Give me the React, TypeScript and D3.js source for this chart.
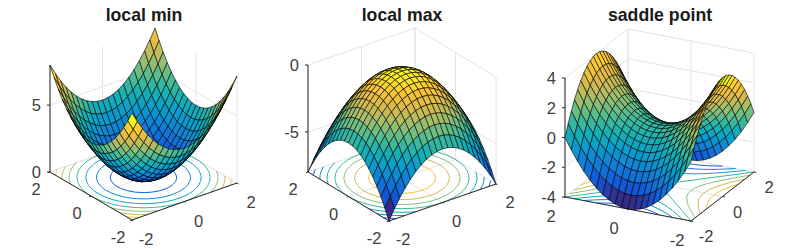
import React from 'react';
import * as d3 from 'd3';

// grid used by all three surfaces (x and y run the same way)
const gridValues = [-2, -1.8, -1.6, -1.4, -1.2, -1, -0.8, -0.6, -0.4, -0.2, 0, 0.2, 0.4, 0.6, 0.8, 1, 1.2, 1.4, 1.6, 1.8, 2];
const xyTicks = [-2, 0, 2];

// rows are x, columns are y
const localMinZ = [
  [8, 7.24, 6.56, 5.96, 5.44, 5, 4.64, 4.36, 4.16, 4.04, 4, 4.04, 4.16, 4.36, 4.64, 5, 5.44, 5.96, 6.56, 7.24, 8],
  [7.24, 6.48, 5.8, 5.2, 4.68, 4.24, 3.88, 3.6, 3.4, 3.28, 3.24, 3.28, 3.4, 3.6, 3.88, 4.24, 4.68, 5.2, 5.8, 6.48, 7.24],
  [6.56, 5.8, 5.12, 4.52, 4, 3.56, 3.2, 2.92, 2.72, 2.6, 2.56, 2.6, 2.72, 2.92, 3.2, 3.56, 4, 4.52, 5.12, 5.8, 6.56],
  [5.96, 5.2, 4.52, 3.92, 3.4, 2.96, 2.6, 2.32, 2.12, 2, 1.96, 2, 2.12, 2.32, 2.6, 2.96, 3.4, 3.92, 4.52, 5.2, 5.96],
  [5.44, 4.68, 4, 3.4, 2.88, 2.44, 2.08, 1.8, 1.6, 1.48, 1.44, 1.48, 1.6, 1.8, 2.08, 2.44, 2.88, 3.4, 4, 4.68, 5.44],
  [5, 4.24, 3.56, 2.96, 2.44, 2, 1.64, 1.36, 1.16, 1.04, 1, 1.04, 1.16, 1.36, 1.64, 2, 2.44, 2.96, 3.56, 4.24, 5],
  [4.64, 3.88, 3.2, 2.6, 2.08, 1.64, 1.28, 1, 0.8, 0.68, 0.64, 0.68, 0.8, 1, 1.28, 1.64, 2.08, 2.6, 3.2, 3.88, 4.64],
  [4.36, 3.6, 2.92, 2.32, 1.8, 1.36, 1, 0.72, 0.52, 0.4, 0.36, 0.4, 0.52, 0.72, 1, 1.36, 1.8, 2.32, 2.92, 3.6, 4.36],
  [4.16, 3.4, 2.72, 2.12, 1.6, 1.16, 0.8, 0.52, 0.32, 0.2, 0.16, 0.2, 0.32, 0.52, 0.8, 1.16, 1.6, 2.12, 2.72, 3.4, 4.16],
  [4.04, 3.28, 2.6, 2, 1.48, 1.04, 0.68, 0.4, 0.2, 0.08, 0.04, 0.08, 0.2, 0.4, 0.68, 1.04, 1.48, 2, 2.6, 3.28, 4.04],
  [4, 3.24, 2.56, 1.96, 1.44, 1, 0.64, 0.36, 0.16, 0.04, 0, 0.04, 0.16, 0.36, 0.64, 1, 1.44, 1.96, 2.56, 3.24, 4],
  [4.04, 3.28, 2.6, 2, 1.48, 1.04, 0.68, 0.4, 0.2, 0.08, 0.04, 0.08, 0.2, 0.4, 0.68, 1.04, 1.48, 2, 2.6, 3.28, 4.04],
  [4.16, 3.4, 2.72, 2.12, 1.6, 1.16, 0.8, 0.52, 0.32, 0.2, 0.16, 0.2, 0.32, 0.52, 0.8, 1.16, 1.6, 2.12, 2.72, 3.4, 4.16],
  [4.36, 3.6, 2.92, 2.32, 1.8, 1.36, 1, 0.72, 0.52, 0.4, 0.36, 0.4, 0.52, 0.72, 1, 1.36, 1.8, 2.32, 2.92, 3.6, 4.36],
  [4.64, 3.88, 3.2, 2.6, 2.08, 1.64, 1.28, 1, 0.8, 0.68, 0.64, 0.68, 0.8, 1, 1.28, 1.64, 2.08, 2.6, 3.2, 3.88, 4.64],
  [5, 4.24, 3.56, 2.96, 2.44, 2, 1.64, 1.36, 1.16, 1.04, 1, 1.04, 1.16, 1.36, 1.64, 2, 2.44, 2.96, 3.56, 4.24, 5],
  [5.44, 4.68, 4, 3.4, 2.88, 2.44, 2.08, 1.8, 1.6, 1.48, 1.44, 1.48, 1.6, 1.8, 2.08, 2.44, 2.88, 3.4, 4, 4.68, 5.44],
  [5.96, 5.2, 4.52, 3.92, 3.4, 2.96, 2.6, 2.32, 2.12, 2, 1.96, 2, 2.12, 2.32, 2.6, 2.96, 3.4, 3.92, 4.52, 5.2, 5.96],
  [6.56, 5.8, 5.12, 4.52, 4, 3.56, 3.2, 2.92, 2.72, 2.6, 2.56, 2.6, 2.72, 2.92, 3.2, 3.56, 4, 4.52, 5.12, 5.8, 6.56],
  [7.24, 6.48, 5.8, 5.2, 4.68, 4.24, 3.88, 3.6, 3.4, 3.28, 3.24, 3.28, 3.4, 3.6, 3.88, 4.24, 4.68, 5.2, 5.8, 6.48, 7.24],
  [8, 7.24, 6.56, 5.96, 5.44, 5, 4.64, 4.36, 4.16, 4.04, 4, 4.04, 4.16, 4.36, 4.64, 5, 5.44, 5.96, 6.56, 7.24, 8],
];

const localMaxZ = [
  [-8, -7.24, -6.56, -5.96, -5.44, -5, -4.64, -4.36, -4.16, -4.04, -4, -4.04, -4.16, -4.36, -4.64, -5, -5.44, -5.96, -6.56, -7.24, -8],
  [-7.24, -6.48, -5.8, -5.2, -4.68, -4.24, -3.88, -3.6, -3.4, -3.28, -3.24, -3.28, -3.4, -3.6, -3.88, -4.24, -4.68, -5.2, -5.8, -6.48, -7.24],
  [-6.56, -5.8, -5.12, -4.52, -4, -3.56, -3.2, -2.92, -2.72, -2.6, -2.56, -2.6, -2.72, -2.92, -3.2, -3.56, -4, -4.52, -5.12, -5.8, -6.56],
  [-5.96, -5.2, -4.52, -3.92, -3.4, -2.96, -2.6, -2.32, -2.12, -2, -1.96, -2, -2.12, -2.32, -2.6, -2.96, -3.4, -3.92, -4.52, -5.2, -5.96],
  [-5.44, -4.68, -4, -3.4, -2.88, -2.44, -2.08, -1.8, -1.6, -1.48, -1.44, -1.48, -1.6, -1.8, -2.08, -2.44, -2.88, -3.4, -4, -4.68, -5.44],
  [-5, -4.24, -3.56, -2.96, -2.44, -2, -1.64, -1.36, -1.16, -1.04, -1, -1.04, -1.16, -1.36, -1.64, -2, -2.44, -2.96, -3.56, -4.24, -5],
  [-4.64, -3.88, -3.2, -2.6, -2.08, -1.64, -1.28, -1, -0.8, -0.68, -0.64, -0.68, -0.8, -1, -1.28, -1.64, -2.08, -2.6, -3.2, -3.88, -4.64],
  [-4.36, -3.6, -2.92, -2.32, -1.8, -1.36, -1, -0.72, -0.52, -0.4, -0.36, -0.4, -0.52, -0.72, -1, -1.36, -1.8, -2.32, -2.92, -3.6, -4.36],
  [-4.16, -3.4, -2.72, -2.12, -1.6, -1.16, -0.8, -0.52, -0.32, -0.2, -0.16, -0.2, -0.32, -0.52, -0.8, -1.16, -1.6, -2.12, -2.72, -3.4, -4.16],
  [-4.04, -3.28, -2.6, -2, -1.48, -1.04, -0.68, -0.4, -0.2, -0.08, -0.04, -0.08, -0.2, -0.4, -0.68, -1.04, -1.48, -2, -2.6, -3.28, -4.04],
  [-4, -3.24, -2.56, -1.96, -1.44, -1, -0.64, -0.36, -0.16, -0.04, 0, -0.04, -0.16, -0.36, -0.64, -1, -1.44, -1.96, -2.56, -3.24, -4],
  [-4.04, -3.28, -2.6, -2, -1.48, -1.04, -0.68, -0.4, -0.2, -0.08, -0.04, -0.08, -0.2, -0.4, -0.68, -1.04, -1.48, -2, -2.6, -3.28, -4.04],
  [-4.16, -3.4, -2.72, -2.12, -1.6, -1.16, -0.8, -0.52, -0.32, -0.2, -0.16, -0.2, -0.32, -0.52, -0.8, -1.16, -1.6, -2.12, -2.72, -3.4, -4.16],
  [-4.36, -3.6, -2.92, -2.32, -1.8, -1.36, -1, -0.72, -0.52, -0.4, -0.36, -0.4, -0.52, -0.72, -1, -1.36, -1.8, -2.32, -2.92, -3.6, -4.36],
  [-4.64, -3.88, -3.2, -2.6, -2.08, -1.64, -1.28, -1, -0.8, -0.68, -0.64, -0.68, -0.8, -1, -1.28, -1.64, -2.08, -2.6, -3.2, -3.88, -4.64],
  [-5, -4.24, -3.56, -2.96, -2.44, -2, -1.64, -1.36, -1.16, -1.04, -1, -1.04, -1.16, -1.36, -1.64, -2, -2.44, -2.96, -3.56, -4.24, -5],
  [-5.44, -4.68, -4, -3.4, -2.88, -2.44, -2.08, -1.8, -1.6, -1.48, -1.44, -1.48, -1.6, -1.8, -2.08, -2.44, -2.88, -3.4, -4, -4.68, -5.44],
  [-5.96, -5.2, -4.52, -3.92, -3.4, -2.96, -2.6, -2.32, -2.12, -2, -1.96, -2, -2.12, -2.32, -2.6, -2.96, -3.4, -3.92, -4.52, -5.2, -5.96],
  [-6.56, -5.8, -5.12, -4.52, -4, -3.56, -3.2, -2.92, -2.72, -2.6, -2.56, -2.6, -2.72, -2.92, -3.2, -3.56, -4, -4.52, -5.12, -5.8, -6.56],
  [-7.24, -6.48, -5.8, -5.2, -4.68, -4.24, -3.88, -3.6, -3.4, -3.28, -3.24, -3.28, -3.4, -3.6, -3.88, -4.24, -4.68, -5.2, -5.8, -6.48, -7.24],
  [-8, -7.24, -6.56, -5.96, -5.44, -5, -4.64, -4.36, -4.16, -4.04, -4, -4.04, -4.16, -4.36, -4.64, -5, -5.44, -5.96, -6.56, -7.24, -8],
];

const saddleZ = [
  [0, -0.76, -1.44, -2.04, -2.56, -3, -3.36, -3.64, -3.84, -3.96, -4, -3.96, -3.84, -3.64, -3.36, -3, -2.56, -2.04, -1.44, -0.76, 0],
  [0.76, 0, -0.68, -1.28, -1.8, -2.24, -2.6, -2.88, -3.08, -3.2, -3.24, -3.2, -3.08, -2.88, -2.6, -2.24, -1.8, -1.28, -0.68, 0, 0.76],
  [1.44, 0.68, 0, -0.6, -1.12, -1.56, -1.92, -2.2, -2.4, -2.52, -2.56, -2.52, -2.4, -2.2, -1.92, -1.56, -1.12, -0.6, 0, 0.68, 1.44],
  [2.04, 1.28, 0.6, 0, -0.52, -0.96, -1.32, -1.6, -1.8, -1.92, -1.96, -1.92, -1.8, -1.6, -1.32, -0.96, -0.52, 0, 0.6, 1.28, 2.04],
  [2.56, 1.8, 1.12, 0.52, 0, -0.44, -0.8, -1.08, -1.28, -1.4, -1.44, -1.4, -1.28, -1.08, -0.8, -0.44, 0, 0.52, 1.12, 1.8, 2.56],
  [3, 2.24, 1.56, 0.96, 0.44, 0, -0.36, -0.64, -0.84, -0.96, -1, -0.96, -0.84, -0.64, -0.36, 0, 0.44, 0.96, 1.56, 2.24, 3],
  [3.36, 2.6, 1.92, 1.32, 0.8, 0.36, 0, -0.28, -0.48, -0.6, -0.64, -0.6, -0.48, -0.28, 0, 0.36, 0.8, 1.32, 1.92, 2.6, 3.36],
  [3.64, 2.88, 2.2, 1.6, 1.08, 0.64, 0.28, 0, -0.2, -0.32, -0.36, -0.32, -0.2, 0, 0.28, 0.64, 1.08, 1.6, 2.2, 2.88, 3.64],
  [3.84, 3.08, 2.4, 1.8, 1.28, 0.84, 0.48, 0.2, 0, -0.12, -0.16, -0.12, 0, 0.2, 0.48, 0.84, 1.28, 1.8, 2.4, 3.08, 3.84],
  [3.96, 3.2, 2.52, 1.92, 1.4, 0.96, 0.6, 0.32, 0.12, 0, -0.04, 0, 0.12, 0.32, 0.6, 0.96, 1.4, 1.92, 2.52, 3.2, 3.96],
  [4, 3.24, 2.56, 1.96, 1.44, 1, 0.64, 0.36, 0.16, 0.04, 0, 0.04, 0.16, 0.36, 0.64, 1, 1.44, 1.96, 2.56, 3.24, 4],
  [3.96, 3.2, 2.52, 1.92, 1.4, 0.96, 0.6, 0.32, 0.12, 0, -0.04, 0, 0.12, 0.32, 0.6, 0.96, 1.4, 1.92, 2.52, 3.2, 3.96],
  [3.84, 3.08, 2.4, 1.8, 1.28, 0.84, 0.48, 0.2, 0, -0.12, -0.16, -0.12, 0, 0.2, 0.48, 0.84, 1.28, 1.8, 2.4, 3.08, 3.84],
  [3.64, 2.88, 2.2, 1.6, 1.08, 0.64, 0.28, 0, -0.2, -0.32, -0.36, -0.32, -0.2, 0, 0.28, 0.64, 1.08, 1.6, 2.2, 2.88, 3.64],
  [3.36, 2.6, 1.92, 1.32, 0.8, 0.36, 0, -0.28, -0.48, -0.6, -0.64, -0.6, -0.48, -0.28, 0, 0.36, 0.8, 1.32, 1.92, 2.6, 3.36],
  [3, 2.24, 1.56, 0.96, 0.44, 0, -0.36, -0.64, -0.84, -0.96, -1, -0.96, -0.84, -0.64, -0.36, 0, 0.44, 0.96, 1.56, 2.24, 3],
  [2.56, 1.8, 1.12, 0.52, 0, -0.44, -0.8, -1.08, -1.28, -1.4, -1.44, -1.4, -1.28, -1.08, -0.8, -0.44, 0, 0.52, 1.12, 1.8, 2.56],
  [2.04, 1.28, 0.6, 0, -0.52, -0.96, -1.32, -1.6, -1.8, -1.92, -1.96, -1.92, -1.8, -1.6, -1.32, -0.96, -0.52, 0, 0.6, 1.28, 2.04],
  [1.44, 0.68, 0, -0.6, -1.12, -1.56, -1.92, -2.2, -2.4, -2.52, -2.56, -2.52, -2.4, -2.2, -1.92, -1.56, -1.12, -0.6, 0, 0.68, 1.44],
  [0.76, 0, -0.68, -1.28, -1.8, -2.24, -2.6, -2.88, -3.08, -3.2, -3.24, -3.2, -3.08, -2.88, -2.6, -2.24, -1.8, -1.28, -0.68, 0, 0.76],
  [0, -0.76, -1.44, -2.04, -2.56, -3, -3.36, -3.64, -3.84, -3.96, -4, -3.96, -3.84, -3.64, -3.36, -3, -2.56, -2.04, -1.44, -0.76, 0],
];

const titles = ['local min', 'local max', 'saddle point'];
const surfaces = [localMinZ, localMaxZ, saddleZ];
const zDomains = [[0, 8], [-8, 0], [-4, 4]];
const zTicks = [[0, 5], [-5, 0], [-4, -2, 0, 2, 4]];
const contourLevels = [
  [1, 2, 3, 4, 5, 6, 7],
  [-7, -6, -5, -4, -3, -2, -1],
  [-3, -2, -1, 0, 1, 2, 3],
];

// parula, sampled
const parulaStops = [0, 0.11, 0.22, 0.33, 0.44, 0.56, 0.67, 0.78, 0.89, 1];
const parulaColors = ['#352a87', '#0f5cdd', '#127cd8', '#079ccf', '#15b1b4', '#59bd8c', '#a5be6a', '#dbb84b', '#fec634', '#f9fb15'];

// box corners of each panel on the page: floor corners and the box height
const layouts = [
  { front: [132, 220], right: [237, 183], left: [50, 172], height: 107, titleX: 144, yOffset: [-14, 17], xOffset: [14, 19] },
  { front: [389, 221], right: [496, 184], left: [308, 172], height: 107, titleX: 402, yOffset: [-15, 17], xOffset: [14, 18] },
  { front: [691, 221], right: [754, 172], left: [565, 197], height: 119, titleX: 660, yOffset: [-14, 19], xOffset: [15, 15] },
];

const FONT = '"Liberation Sans", Arial, sans-serif';
const GRID = '#e4e4e4';
const AXIS = '#262626';
const TEXT = '#404040';

function Panel({ index }: { index: number }) {
  const z = surfaces[index];
  const [zMin, zMax] = zDomains[index];
  const { front, right, left, height, titleX, yOffset, xOffset } = layouts[index];

  const xScale = d3.scaleLinear().domain([-2, 2]).range([0, 1]);
  const yScale = d3.scaleLinear().domain([-2, 2]).range([0, 1]);
  const zScale = d3.scaleLinear().domain([zMin, zMax]).range([0, height]);
  const color = d3
    .scaleLinear<string>()
    .domain(parulaStops.map((s) => zMin + s * (zMax - zMin)))
    .range(parulaColors)
    .interpolate(d3.interpolateRgb);

  // orthographic box: floor spanned by the two front edges, z straight up
  const project = (x: number, y: number, v: number): [number, number] => {
    const u = xScale(x);
    const w = yScale(y);
    return [
      front[0] + u * (right[0] - front[0]) + w * (left[0] - front[0]),
      front[1] + u * (right[1] - front[1]) + w * (left[1] - front[1]) - zScale(v),
    ];
  };
  const line = d3.line();

  const gridLines: [number, number][][] = [];
  xyTicks.forEach((t) => {
    gridLines.push([project(t, -2, zMin), project(t, 2, zMin)]);
    gridLines.push([project(-2, t, zMin), project(2, t, zMin)]);
    gridLines.push([project(t, 2, zMin), project(t, 2, zMax)]);
    gridLines.push([project(2, t, zMin), project(2, t, zMax)]);
  });
  zTicks[index].forEach((t) => {
    gridLines.push([project(-2, 2, t), project(2, 2, t), project(2, -2, t)]);
  });

  // floor contours: d3 closes rings along the grid border, those pieces are dropped
  const n = gridValues.length;
  const idx = d3.scaleLinear().domain([0, n - 1]).range([-2, 2]);
  const contourGen = d3.contours().size([n, n]).thresholds(contourLevels[index]);
  const inside = (p: number[]) =>
    p[0] >= 0.49 && p[0] <= n - 0.49 && p[1] >= 0.49 && p[1] <= n - 0.49;
  const contourPaths = contourGen(z.flat()).map((c) => {
    const path = d3.path();
    c.coordinates.forEach((polygon) =>
      polygon.forEach((ring) => {
        for (let k = 1; k < ring.length; k++) {
          if (!inside(ring[k - 1]) || !inside(ring[k])) continue;
          const a = project(idx(ring[k - 1][1] - 0.5), idx(ring[k - 1][0] - 0.5), zMin);
          const b = project(idx(ring[k][1] - 0.5), idx(ring[k][0] - 0.5), zMin);
          path.moveTo(a[0], a[1]);
          path.lineTo(b[0], b[1]);
        }
      })
    );
    return { value: c.value, d: path.toString() };
  });

  // painter's order: back corner (x=2, y=2) first. Flat colour from the first vertex.
  const faces: { d: string; fill: string }[] = [];
  for (let i = n - 2; i >= 0; i--) {
    for (let j = n - 2; j >= 0; j--) {
      const pts = [
        project(gridValues[i], gridValues[j], z[i][j]),
        project(gridValues[i + 1], gridValues[j], z[i + 1][j]),
        project(gridValues[i + 1], gridValues[j + 1], z[i + 1][j + 1]),
        project(gridValues[i], gridValues[j + 1], z[i][j + 1]),
      ];
      faces.push({ d: line(pts) + 'Z', fill: color(z[i][j]) });
    }
  }

  const axisPath = line([project(-2, 2, zMax), project(-2, 2, zMin), project(-2, -2, zMin), project(2, -2, zMin)]);
  const tickLen = 0.07;

  return (
    <g>
      <text x={titleX} y={21} textAnchor="middle" fontFamily={FONT} fontWeight="bold" fontSize={17.7} fill="#1a1a1a">
        {titles[index]}
      </text>
      <g fill="none" stroke={GRID} strokeWidth={1}>
        {gridLines.map((g, i) => (
          <path key={i} d={line(g) as string} />
        ))}
      </g>
      <g fill="none" strokeWidth={1}>
        {contourPaths.map((c) => (
          <path key={c.value} d={c.d} stroke={color(c.value)} />
        ))}
      </g>
      <g fill="none" stroke={AXIS} strokeWidth={1}>
        <path d={axisPath as string} />
        {xyTicks.map((t) => (
          <path key={'y' + t} d={line([project(-2, t, zMin), project(-2 - tickLen, t, zMin)]) as string} />
        ))}
        {xyTicks.map((t) => (
          <path key={'x' + t} d={line([project(t, -2, zMin), project(t, -2 - tickLen, zMin)]) as string} />
        ))}
        {zTicks[index].map((t) => {
          const p = project(-2, 2, t);
          return <path key={'z' + t} d={`M${p[0]},${p[1]}h-3`} />;
        })}
      </g>
      <g stroke="#000" strokeWidth={0.6} strokeLinejoin="round">
        {faces.map((f, i) => (
          <path key={i} d={f.d} fill={f.fill} />
        ))}
      </g>
      <g fontFamily={FONT} fontSize={16.5} fill={TEXT} textAnchor="middle">
        {xyTicks.map((t) => {
          const p = project(-2, t, zMin);
          return (
            <text key={'yl' + t} x={p[0] + yOffset[0]} y={p[1] + yOffset[1] + 6}>
              {t}
            </text>
          );
        })}
        {xyTicks.map((t) => {
          const p = project(t, -2, zMin);
          return (
            <text key={'xl' + t} x={p[0] + xOffset[0]} y={p[1] + xOffset[1] + 6}>
              {t}
            </text>
          );
        })}
        {zTicks[index].map((t) => {
          const p = project(-2, 2, t);
          return (
            <text key={'zl' + t} x={p[0] - 9} y={p[1] + 6} textAnchor="end">
              {t}
            </text>
          );
        })}
      </g>
    </g>
  );
}

export default function App() {
  return (
    <svg
      width={797}
      height={250}
      viewBox="0 0 797 250"
      style={{ position: 'absolute', left: 0, top: 0, background: '#fff' }}
    >
      {titles.map((_, i) => (
        <Panel key={i} index={i} />
      ))}
    </svg>
  );
}
